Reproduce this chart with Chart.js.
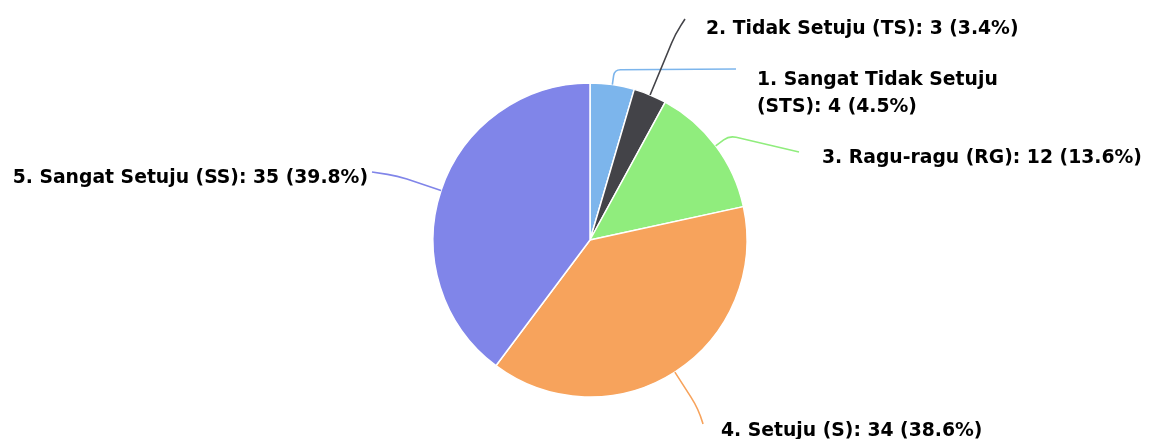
<!DOCTYPE html>
<html>
<head>
<meta charset="utf-8">
<script src="https://cdn.jsdelivr.net/npm/chart.js@4.4.1/dist/chart.umd.min.js"></script>
<style>
  html, body { margin: 0; padding: 0; background: #fff; }
  #wrap { position: relative; width: 1162px; height: 439px; }
</style>
</head>
<body>
<div id="wrap"><canvas id="pie"></canvas></div>
<script>
// data
const categories = ['1. Sangat Tidak Setuju (STS)', '2. Tidak Setuju (TS)', '3. Ragu-ragu (RG)', '4. Setuju (S)', '5. Sangat Setuju (SS)'];
const counts = [4, 3, 12, 34, 35];
const colors = ['#7cb5ec', '#434348', '#90ed7d', '#f7a35c', '#8085e9'];

// where each data label sits and how its connector runs
const labelLayout = [
  { x: 757, y: 85, align: 'left', end: [736, 69], elbow: 15, round: 6, maxWidth: 300 },
  { x: 706, y: 34, align: 'left', end: [685, 19], elbow: 66, round: 10 },
  { x: 822, y: 163, align: 'left', end: [799, 152], elbow: 17, round: 7 },
  { x: 721, y: 436, align: 'left', end: [703, 424], elbow: 44, round: 14 },
  { x: 368, y: 183, align: 'right', end: [372, 172], elbow: 46, round: 10 }
];
const labelFont = 'bold 18.8px "DejaVu Sans", sans-serif';
const lineHeight = 27;

const total = counts.reduce((a, b) => a + b, 0);

function wrapText(ctx, text, maxWidth) {
  if (!maxWidth) return [text];
  const words = text.split(' ');
  const lines = [];
  let cur = '';
  words.forEach(w => {
    const test = cur ? cur + ' ' + w : w;
    if (cur && ctx.measureText(test).width > maxWidth) {
      lines.push(cur);
      cur = w;
    } else {
      cur = test;
    }
  });
  if (cur) lines.push(cur);
  return lines;
}

const pieLabels = {
  id: 'pieLabels',
  afterDatasetsDraw(chart) {
    const ctx = chart.ctx;
    const arcs = chart.getDatasetMeta(0).data;
    ctx.save();
    arcs.forEach((arc, i) => {
      const p = arc.getProps(['x', 'y', 'startAngle', 'endAngle', 'outerRadius'], true);
      const mid = (p.startAngle + p.endAngle) / 2;
      const ux = Math.cos(mid), uy = Math.sin(mid);
      const lay = labelLayout[i];
      const sx = p.x + ux * p.outerRadius, sy = p.y + uy * p.outerRadius;
      const bx = sx + ux * lay.elbow, by = sy + uy * lay.elbow;
      const ex = lay.end[0], ey = lay.end[1];
      const rr = lay.round;
      const dx = ex - bx, dy = ey - by;
      const dl = Math.hypot(dx, dy) || 1;
      ctx.beginPath();
      ctx.moveTo(sx, sy);
      ctx.lineTo(bx - ux * rr, by - uy * rr);
      ctx.quadraticCurveTo(bx, by, bx + dx / dl * Math.min(rr, dl), by + dy / dl * Math.min(rr, dl));
      ctx.lineTo(ex, ey);
      ctx.strokeStyle = colors[i];
      ctx.lineWidth = 1.6;
      ctx.stroke();

      const pct = (counts[i] / total * 100).toFixed(1);
      const text = categories[i] + ': ' + counts[i] + ' (' + pct + '%)';
      ctx.font = labelFont;
      ctx.fillStyle = '#000';
      ctx.textAlign = lay.align;
      ctx.textBaseline = 'alphabetic';
      wrapText(ctx, text, lay.maxWidth).forEach((ln, k) => {
        ctx.fillText(ln, lay.x, lay.y + k * lineHeight);
      });
    });
    ctx.restore();
  }
};

new Chart(document.getElementById('pie'), {
  type: 'pie',
  data: {
    labels: categories,
    datasets: [{
      data: counts,
      backgroundColor: colors,
      borderColor: '#ffffff',
      borderWidth: 1.5
    }]
  },
  options: {
    responsive: true,
    maintainAspectRatio: false,
    animation: false,
    events: [],
    radius: 157,
    layout: { padding: { left: 433, right: 415, top: 83, bottom: 42 } },
    plugins: {
      legend: { display: false },
      tooltip: { enabled: false }
    }
  },
  plugins: [pieLabels]
});
</script>
</body>
</html>
